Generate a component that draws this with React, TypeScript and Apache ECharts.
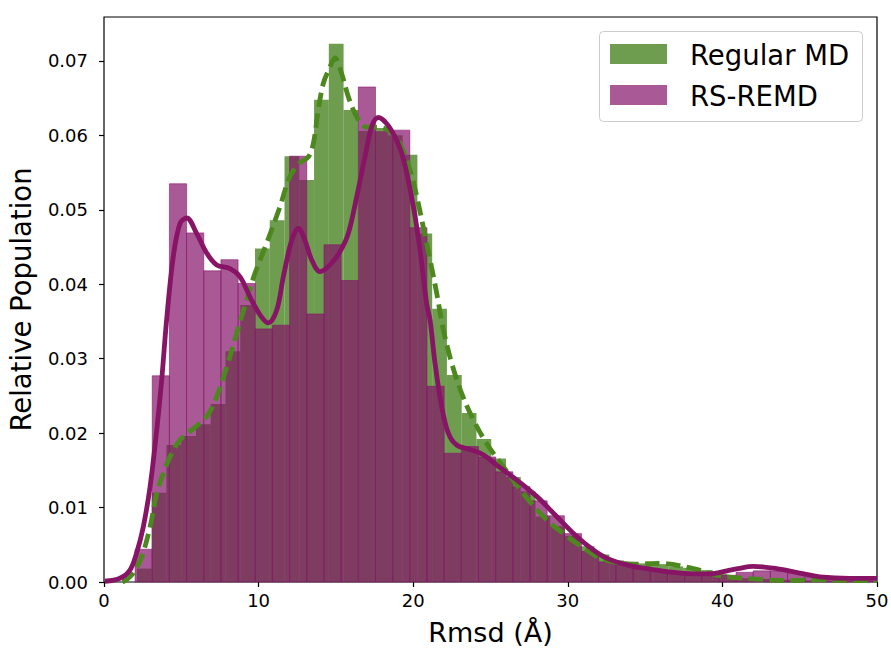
import React, { useEffect, useRef } from "react";
import * as echarts from "echarts";

// Regular MD histogram (density), uniform bins
const mdBinStart = 2.127;
const mdBinWidth = 0.955;
const mdHeights = [
  0.0018, 0.012, 0.0184, 0.0196, 0.0212, 0.0239, 0.031, 0.0372, 0.0448, 0.0486,
  0.0572, 0.054, 0.0648, 0.0723, 0.0634, 0.0606, 0.061, 0.06, 0.0574, 0.0468,
  0.0367, 0.0278, 0.0227, 0.0192, 0.0166, 0.0141, 0.0122, 0.0088, 0.0075, 0.0062,
  0.0048, 0.0037, 0.0029, 0.0026, 0.0025, 0.0024, 0.0021, 0.0019, 0.0016, 0.0011,
  0.0007, 0.0005, 0.0004, 0.0003, 0.0003, 0.0002, 0.0002, 0.0001, 0.0001, 0.0001,
];

// RS-REMD histogram (density), uniform bins
const remdBinStart = 2.01;
const remdBinWidth = 1.1107;
const remdHeights = [
  0.0044, 0.0277, 0.0535, 0.0469, 0.0418, 0.0433, 0.0401, 0.034, 0.0345, 0.0572,
  0.036, 0.0453, 0.0405, 0.0665, 0.0605, 0.0607, 0.0476, 0.0263, 0.0173, 0.0182,
  0.0168, 0.0148, 0.0128, 0.0109, 0.0089, 0.0065, 0.0041, 0.0027, 0.0023, 0.002,
  0.0016, 0.0014, 0.0012, 0.0009, 0.0009, 0.0013, 0.0015, 0.0015, 0.0013, 0.0007,
  0.0005, 0.0004, 0.0004,
];

// KDE curves
const mdKde: number[][] = [
  [1.2, 0.0], [1.47, 0.0003], [1.9, 0.0012], [2.44, 0.0034], [2.98, 0.0074], [3.41, 0.0119],
  [3.84, 0.0146], [4.27, 0.0168], [4.92, 0.0191], [5.78, 0.0206], [6.64, 0.0222],
  [7.29, 0.0249], [7.94, 0.0289], [8.58, 0.0334], [9.23, 0.0379], [9.77, 0.0415],
  [10.52, 0.0455], [11.38, 0.0504], [12.03, 0.0545], [12.68, 0.0563], [13.22, 0.0571],
  [13.54, 0.0589], [13.86, 0.0634], [14.19, 0.067], [14.62, 0.0692], [14.94, 0.0704],
  [15.37, 0.0683], [15.8, 0.0652], [16.35, 0.0625], [16.99, 0.0611], [17.85, 0.0611],
  [18.5, 0.0605], [19.15, 0.0589], [19.79, 0.0554], [20.23, 0.0518], [20.65, 0.0477],
  [21.09, 0.0433], [21.52, 0.0388], [21.95, 0.0339], [22.49, 0.0294], [23.14, 0.0253],
  [23.89, 0.0218], [24.75, 0.0186], [25.83, 0.0155], [27.12, 0.0119], [28.42, 0.0088],
  [29.71, 0.0065], [30.58, 0.0052], [31.22, 0.0043], [32.08, 0.0032], [33.0, 0.0027],
  [34.24, 0.0024], [35.96, 0.0025], [38.12, 0.0018], [39.3, 0.0011], [40.28, 0.0007],
  [42.2, 0.0004], [44.2, 0.0002], [46.3, 0.0003], [48.0, 0.0002], [50.0, 0.0002],
];

const remdKde: number[][] = [
  [0.06, 0.0001], [1.03, 0.0005], [1.68, 0.0016], [2.11, 0.0039], [2.54, 0.0074],
  [2.98, 0.0128], [3.41, 0.0204], [3.73, 0.0271], [4.05, 0.0352], [4.48, 0.0437],
  [4.92, 0.0482], [5.35, 0.0489], [6.0, 0.0468], [6.64, 0.0442], [7.29, 0.0426],
  [8.15, 0.0421], [8.8, 0.041], [9.44, 0.0383], [10.09, 0.0359], [10.63, 0.0348],
  [11.17, 0.0365], [11.6, 0.041], [12.14, 0.0459], [12.57, 0.0475], [13.0, 0.0459],
  [13.43, 0.0433], [13.97, 0.0417], [14.62, 0.0426], [15.27, 0.0444], [15.8, 0.0468],
  [16.35, 0.0518], [16.88, 0.0571], [17.32, 0.0612], [17.74, 0.0624], [18.28, 0.0616],
  [18.82, 0.0598], [19.26, 0.0576], [19.68, 0.054], [20.12, 0.0491], [20.44, 0.0446],
  [20.87, 0.0374], [21.09, 0.0352], [21.41, 0.0294], [21.84, 0.0236], [22.27, 0.02],
  [22.81, 0.0184], [23.67, 0.0178], [24.53, 0.0171], [25.4, 0.0157], [26.7, 0.0137],
  [27.99, 0.0115], [29.28, 0.0088], [30.58, 0.0061], [31.65, 0.0043], [32.52, 0.0032],
  [33.81, 0.0023], [35.1, 0.0018], [36.4, 0.0014], [38.12, 0.0011], [39.2, 0.0011],
  [40.28, 0.0015], [41.0, 0.0018], [42.0, 0.0021], [43.5, 0.0018], [45.0, 0.0012],
  [46.3, 0.0007], [48.25, 0.0005], [50.0, 0.0005],
];

const xTicks = [0, 10, 20, 30, 40, 50];
const yTicks = [0, 0.01, 0.02, 0.03, 0.04, 0.05, 0.06, 0.07];
const legendLabels = ["Regular MD", "RS-REMD"];

const GREEN = "#4b8523";
const PURPLE = "#84136a";
const GREEN_LINE = "#4d881f";
const PURPLE_LINE = "#871465";
const FONT = "DejaVu Sans";

function bins(start: number, width: number, heights: number[]) {
  return heights.map((h, i) => [start + i * width, start + (i + 1) * width, h]);
}

function histSeries(name: string, data: number[][], color: string, opacity: number, stroke: boolean, z: number) {
  return {
    type: "custom",
    name,
    z,
    data,
    encode: { x: [0, 1], y: 2 },
    renderItem: (params: any, api: any) => {
      const p0 = api.coord([api.value(0), api.value(2)]);
      const p1 = api.coord([api.value(1), 0]);
      return {
        type: "rect",
        shape: { x: p0[0], y: p0[1], width: p1[0] - p0[0], height: p1[1] - p0[1] },
        style: stroke
          ? { fill: color, opacity, stroke: color, lineWidth: 0.8 }
          : { fill: color, opacity },
      };
    },
  };
}

export default function App() {
  const ref = useRef<HTMLDivElement>(null);
  useEffect(() => {
    if (!ref.current) return;
    const chart = echarts.init(ref.current, null, { renderer: "svg" });
    const legendX = 599.5;
    const legendY = 31.5;
    chart.setOption({
      animation: false,
      grid: {
        left: 104,
        right: 14,
        top: 17,
        bottom: 68,
        outerBoundsMode: "none",
        containLabel: false,
        show: true,
        borderColor: "#000",
        borderWidth: 1.2,
        backgroundColor: "transparent",
      },
      xAxis: {
        type: "value",
        min: 0,
        max: 50,
        interval: 10,
        name: "Rmsd (Å)",
        nameLocation: "middle",
        nameGap: 37,
        nameTextStyle: { fontSize: 27, color: "#000", fontFamily: FONT },
        axisLine: { show: false },
        axisTick: { show: true, length: 5, lineStyle: { color: "#000", width: 1.2 }, customValues: xTicks },
        axisLabel: { fontSize: 18, color: "#000", fontFamily: FONT, margin: 9, customValues: xTicks },
        splitLine: { show: false },
      },
      yAxis: {
        type: "value",
        min: 0,
        max: 0.0759,
        name: "Relative Population",
        nameLocation: "middle",
        nameGap: 69,
        nameTextStyle: { fontSize: 27.5, color: "#000", fontFamily: FONT },
        axisLine: { show: false },
        axisTick: { show: true, length: 5, lineStyle: { color: "#000", width: 1.2 }, customValues: yTicks },
        axisLabel: {
          fontSize: 18,
          color: "#000",
          fontFamily: FONT,
          margin: 16,
          customValues: yTicks,
          formatter: (v: number) => v.toFixed(2),
        },
        splitLine: { show: false },
      },
      series: [
        histSeries(legendLabels[0], bins(mdBinStart, mdBinWidth, mdHeights), GREEN, 0.8, false, 1),
        histSeries(legendLabels[1], bins(remdBinStart, remdBinWidth, remdHeights), PURPLE, 0.7, true, 2),
        {
          type: "line",
          z: 3,
          data: mdKde,
          smooth: 0.35,
          showSymbol: false,
          lineStyle: { color: GREEN_LINE, width: 4.8, type: [14.5, 6.5] },
        },
        {
          type: "line",
          z: 4,
          data: remdKde,
          smooth: 0.35,
          showSymbol: false,
          lineStyle: { color: PURPLE_LINE, width: 4.8 },
        },
      ],
      graphic: [
        {
          type: "rect",
          z: 100,
          shape: { x: legendX, y: legendY, width: 263, height: 90, r: 4 },
          style: { fill: "rgba(255,255,255,0.8)", stroke: "#cccccc", lineWidth: 1 },
        },
        {
          type: "rect",
          z: 101,
          shape: { x: 610, y: 44, width: 57, height: 20 },
          style: { fill: GREEN, opacity: 0.8 },
        },
        {
          type: "rect",
          z: 101,
          shape: { x: 610, y: 85, width: 57, height: 20 },
          style: { fill: PURPLE, opacity: 0.7 },
        },
        {
          type: "text",
          z: 101,
          x: 690,
          y: 55,
          style: { text: legendLabels[0], fontSize: 27.5, fontFamily: FONT, fill: "#000", verticalAlign: "middle" },
        },
        {
          type: "text",
          z: 101,
          x: 690,
          y: 96,
          style: { text: legendLabels[1], fontSize: 27.5, fontFamily: FONT, fill: "#000", verticalAlign: "middle" },
        },
      ],
    });
    return () => chart.dispose();
  }, []);
  return (
    <div
      ref={ref}
      style={{ position: "fixed", left: 0, top: 0, width: 891, height: 650, background: "#fff" }}
    />
  );
}
